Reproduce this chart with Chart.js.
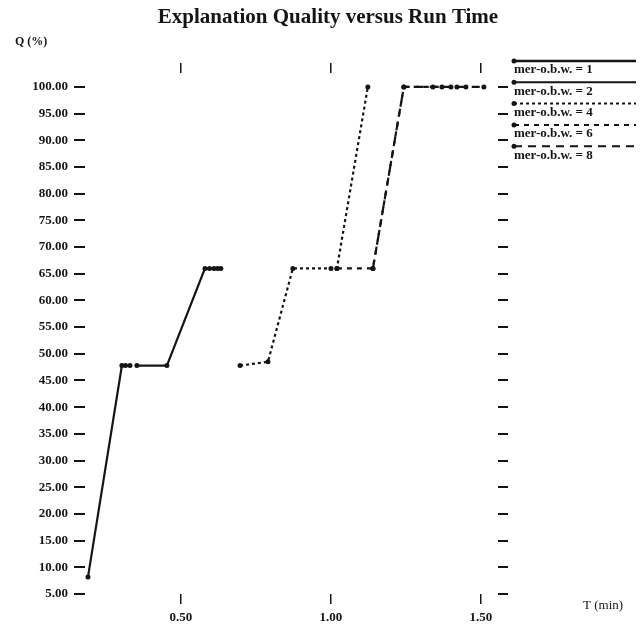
<!DOCTYPE html>
<html>
<head>
<meta charset="utf-8">
<script src="https://cdn.jsdelivr.net/npm/chart.js@4.4.1/dist/chart.umd.min.js"></script>
<style>
  html, body { margin: 0; padding: 0; background: #fff; }
</style>
</head>
<body>
<canvas id="chart" width="643" height="624"></canvas>
<script>
// data
const seriesLabels = [
  "mer-o.b.w. = 1",
  "mer-o.b.w. = 2",
  "mer-o.b.w. = 4",
  "mer-o.b.w. = 6",
  "mer-o.b.w. = 8",
];

const obw1T = [0.19, 0.303, 0.315, 0.33];
const obw1Q = [8.2, 47.8, 47.8, 47.8];

const obw2T = [0.353, 0.453, 0.58, 0.595, 0.61, 0.622, 0.633];
const obw2Q = [47.8, 47.8, 66, 66, 66, 66, 66];

const obw4T = [0.697, 0.79, 0.873, 1.0, 1.02, 1.123];
const obw4Q = [47.8, 48.5, 66, 66, 66, 100];

const obw6T = [1.02, 1.14, 1.243, 1.34, 1.37];
const obw6Q = [66, 66, 100, 100, 100];

const obw8T = [1.14, 1.243, 1.40, 1.42, 1.45, 1.51];
const obw8Q = [66, 100, 100, 100, 100, 100];

const xTicks = [0.5, 1.0, 1.5];
const yTicks = [5, 10, 15, 20, 25, 30, 35, 40, 45, 50, 55, 60, 65, 70, 75, 80, 85, 90, 95, 100];

const ink = "#151515";
const serif = "'Liberation Serif', 'DejaVu Serif', serif";

function pts(ts, qs) {
  return ts.map((t, i) => ({ x: t, y: qs[i] }));
}

function makeSet(label, ts, qs, dash, width) {
  return {
    label: label,
    data: pts(ts, qs),
    borderColor: ink,
    borderWidth: width,
    borderDash: dash,
    pointRadius: 2.5,
    pointBackgroundColor: ink,
    pointBorderWidth: 0,
    tension: 0,
    fill: false,
  };
}

const datasets = [
  makeSet(seriesLabels[0], obw1T, obw1Q, [], 2.2),
  makeSet(seriesLabels[1], obw2T, obw2Q, [], 2.2),
  makeSet(seriesLabels[2], obw4T, obw4Q, [3, 3], 2.2),
  makeSet(seriesLabels[3], obw6T, obw6Q, [5, 5], 2.2),
  makeSet(seriesLabels[4], obw8T, obw8Q, [8, 6], 2.2),
];

function setTicks(list) {
  return (scale) => {
    scale.ticks = list.map((v) => ({ value: v }));
  };
}

const tickGrid = (len, width) => ({
  display: true,
  drawOnChartArea: false,
  drawTicks: true,
  tickLength: len,
  color: ink,
  lineWidth: width,
});

// title, axis names and the old style legend on the right
const decorations = {
  id: "decorations",
  afterDraw(chart) {
    const ctx = chart.ctx;
    ctx.save();
    ctx.fillStyle = ink;
    ctx.textBaseline = "middle";

    ctx.font = "bold 21px " + serif;
    ctx.textAlign = "center";
    ctx.fillText("Explanation Quality versus Run Time", 328, 18);

    ctx.font = "bold 12px " + serif;
    ctx.textAlign = "left";
    ctx.fillText("Q (%)", 15, 42);

    ctx.font = "13px " + serif;
    ctx.fillText("T (min)", 583, 606);

    chart.data.datasets.forEach((ds, i) => {
      const y = 61 + i * 21.3;
      ctx.strokeStyle = ink;
      ctx.lineWidth = i === 0 ? 2.5 : 2;
      ctx.setLineDash(ds.borderDash);
      ctx.beginPath();
      ctx.moveTo(514, y);
      ctx.lineTo(636, y);
      ctx.stroke();
      ctx.setLineDash([]);
      ctx.beginPath();
      ctx.arc(514, y, 2.5, 0, Math.PI * 2);
      ctx.fill();
      ctx.font = "bold 13px " + serif;
      ctx.fillText(ds.label, 514, y + 9);
    });
    ctx.restore();
  },
};

new Chart(document.getElementById("chart"), {
  type: "line",
  data: { datasets: datasets },
  options: {
    responsive: false,
    animation: false,
    layout: { padding: { top: 63, left: 30, right: 135, bottom: 0 } },
    plugins: {
      legend: { display: false },
      title: { display: false },
      tooltip: { enabled: false },
    },
    scales: {
      x: {
        type: "linear",
        position: "bottom",
        min: 0.18,
        max: 1.557,
        afterBuildTicks: setTicks(xTicks),
        afterFit: (scale) => { scale.height = 30; },
        grid: tickGrid(10, 1.5),
        border: { display: false },
        ticks: {
          padding: 6,
          color: ink,
          font: { family: serif, size: 13, weight: "bold" },
          callback: (v) => Number(v).toFixed(2),
        },
      },
      x2: {
        type: "linear",
        position: "top",
        min: 0.18,
        max: 1.557,
        afterBuildTicks: setTicks(xTicks),
        grid: tickGrid(10, 1.5),
        border: { display: false },
        ticks: { display: false },
      },
      y: {
        type: "linear",
        position: "left",
        min: 5,
        max: 102.6,
        afterBuildTicks: setTicks(yTicks),
        afterFit: (scale) => { scale.width = 55; },
        grid: tickGrid(11, 2),
        border: { display: false },
        ticks: {
          padding: 6,
          color: ink,
          font: { family: serif, size: 13, weight: "bold" },
          callback: (v) => Number(v).toFixed(2),
        },
      },
      y2: {
        type: "linear",
        position: "right",
        min: 5,
        max: 102.6,
        afterBuildTicks: setTicks(yTicks),
        grid: tickGrid(10, 2),
        border: { display: false },
        ticks: { display: false },
      },
    },
  },
  plugins: [decorations],
});
</script>
</body>
</html>
